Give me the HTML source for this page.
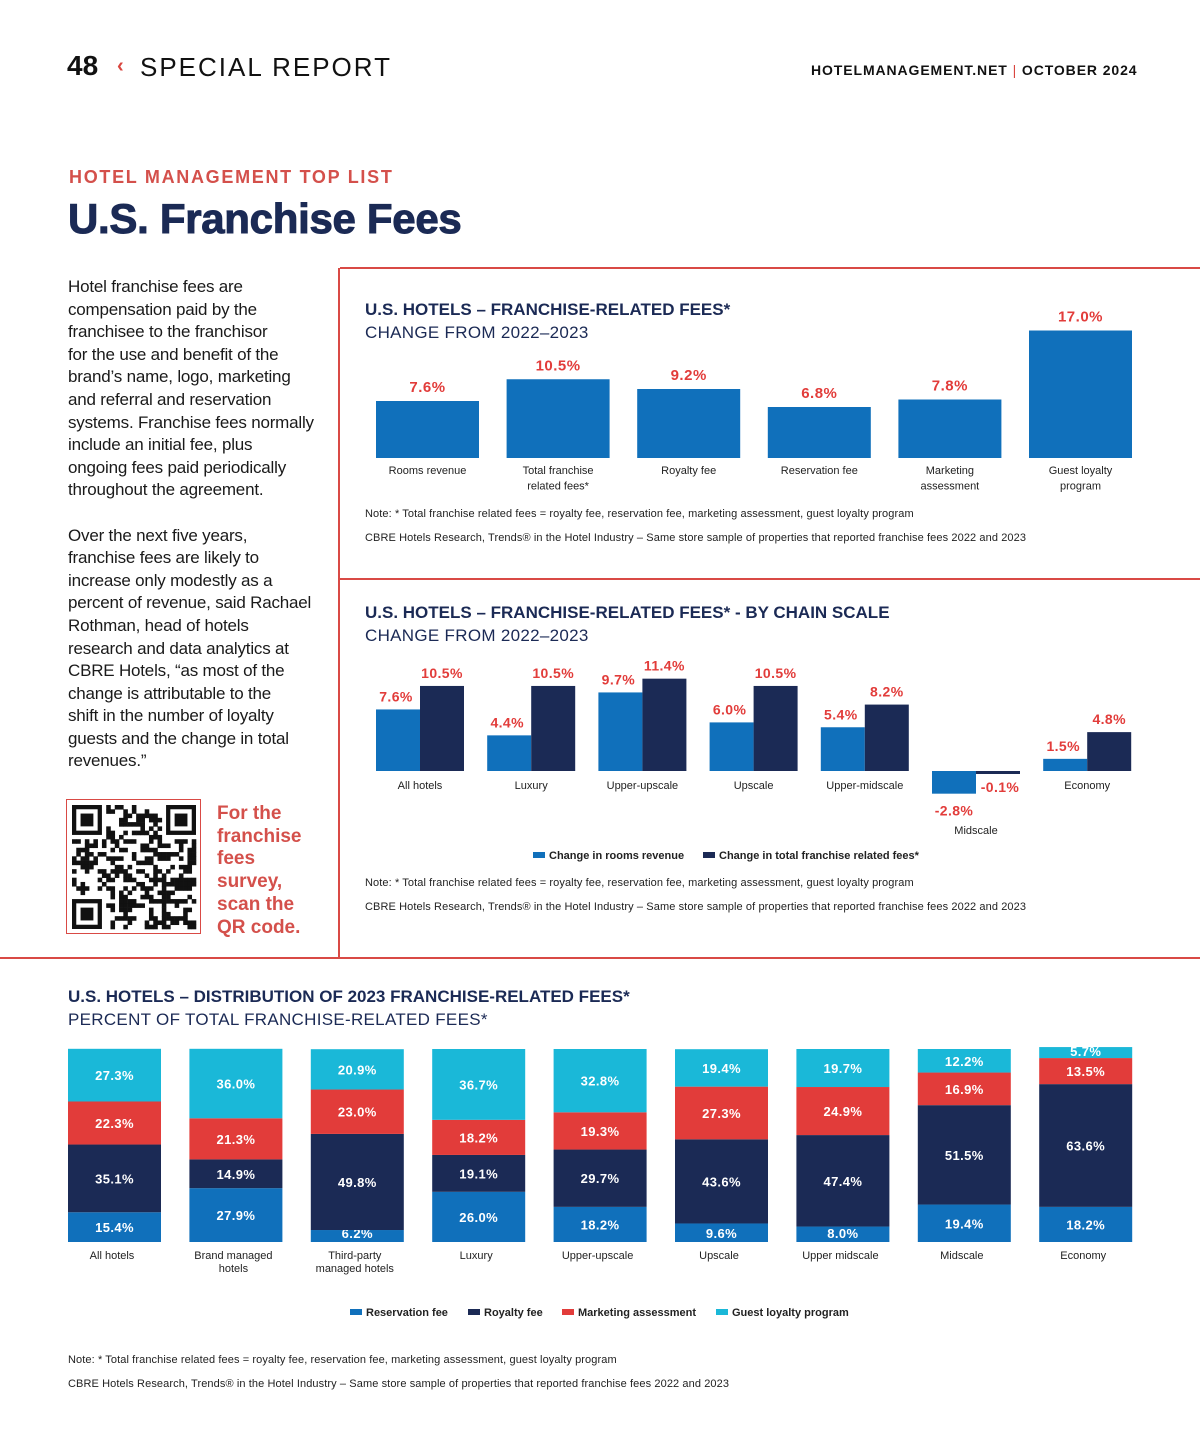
<!DOCTYPE html>
<html><head><meta charset="utf-8">
<style>
body{margin:0;background:#fff;}
#page{position:relative;width:1200px;height:1454px;overflow:hidden;font-family:"Liberation Sans",sans-serif;background:#fff;}
.abs{position:absolute;white-space:nowrap;}
#body-text{position:absolute;left:68px;top:276px;width:270px;font-size:17px;line-height:22.6px;color:#1a1a1a;white-space:nowrap;letter-spacing:-0.2px;}
svg text{font-family:"Liberation Sans",sans-serif;}
</style></head><body>
<div id="page">
<div class="abs" style="left:67px;top:50px;font-size:28px;font-weight:bold;color:#111;">48</div>
<div class="abs" style="left:117px;top:55px;font-size:20px;font-weight:bold;color:#d9463f;">‹</div>
<div class="abs" style="left:140px;top:52px;font-size:26px;letter-spacing:2px;color:#111;">SPECIAL REPORT</div>
<div class="abs" style="left:811px;top:62px;font-size:14px;font-weight:bold;letter-spacing:0.9px;color:#111;">HOTELMANAGEMENT.NET <span style="color:#d9463f;font-weight:normal">|</span> OCTOBER 2024</div>
<div class="abs" style="left:69px;top:167px;font-size:18px;font-weight:bold;letter-spacing:1.7px;color:#d4504b;">HOTEL MANAGEMENT TOP LIST</div>
<div class="abs" style="left:68px;top:195px;font-size:42px;font-weight:bold;letter-spacing:-0.3px;color:#1b2a55;-webkit-text-stroke:1px #1b2a55;">U.S. Franchise Fees</div>
<div id="body-text">Hotel franchise fees are<br>compensation paid by the<br>franchisee to the franchisor<br>for the use and benefit of the<br>brand’s name, logo, marketing<br>and referral and reservation<br>systems. Franchise fees normally<br>include an initial fee, plus<br>ongoing fees paid periodically<br>throughout the agreement.<br><br>Over the next five years,<br>franchise fees are likely to<br>increase only modestly as a<br>percent of revenue, said Rachael<br>Rothman, head of hotels<br>research and data analytics at<br>CBRE Hotels, “as most of the<br>change is attributable to the<br>shift in the number of loyalty<br>guests and the change in total<br>revenues.”</div>
<div class="abs" style="left:217px;top:803px;font-size:19px;line-height:22.7px;font-weight:bold;color:#d4504b;">For the<br>franchise<br>fees<br>survey,<br>scan the<br>QR code.</div>
<svg id="svg" width="1200" height="1454" style="position:absolute;left:0;top:0"></svg>
</div>
<script>
// Chart 1 data
const c1Cats=["Rooms revenue","Total franchise|related fees*","Royalty fee","Reservation fee","Marketing|assessment","Guest loyalty|program"];
const c1Vals=[7.6,10.5,9.2,6.8,7.8,17.0];
// Chart 2 data
const c2Cats=["All hotels","Luxury","Upper-upscale","Upscale","Upper-midscale","Midscale","Economy"];
const c2Rooms=[7.6,4.4,9.7,6.0,5.4,-2.8,1.5];
const c2Fees=[10.5,10.5,11.4,10.5,8.2,-0.1,4.8];
// Chart 3 data
const c3Cats=["All hotels","Brand managed|hotels","Third-party|managed hotels","Luxury","Upper-upscale","Upscale","Upper midscale","Midscale","Economy"];
const c3Reservation=[15.4,27.9,6.2,26.0,18.2,9.6,8.0,19.4,18.2];
const c3Royalty=[35.1,14.9,49.8,19.1,29.7,43.6,47.4,51.5,63.6];
const c3Marketing=[22.3,21.3,23.0,18.2,19.3,27.3,24.9,16.9,13.5];
const c3Loyalty=[27.3,36.0,20.9,36.7,32.8,19.4,19.7,12.2,5.7];

const NS="http://www.w3.org/2000/svg";
const svg=document.getElementById('svg');
const BLUE="#1070bb",NAVY="#1b2a55",RED="#e23c3a",CYAN="#1ab8d8",LRED="#d94a45";
function el(tag,attrs,parent){const e=document.createElementNS(NS,tag);for(const k in attrs)e.setAttribute(k,attrs[k]);(parent||svg).appendChild(e);return e;}
function txt(x,y,s,o){const t=el('text',Object.assign({x:x,y:y},o||{}));t.textContent=s;return t;}
function multi(x,y,s,o,lh){s.split('|').forEach((l,i)=>{const t=txt(x,y+i*lh,l,o);});}

// frame lines
[[340,268,1200,268],[340,579,1200,579],[0,958,1200,958],[339,268,339,958]].forEach(l=>{
 const e=el('line',{x1:l[0],y1:l[1],x2:l[2],y2:l[3],stroke:LRED,'stroke-width':2});
 });

// QR
const qrBox=el('rect',{x:66.5,y:799.5,width:134,height:134,fill:'none',stroke:LRED,'stroke-width':1});

const qr=el('g',{});
let seed=7;function rnd(){seed=(seed*16807)%2147483647;return seed/2147483647;}
const N=29,cs=124/N,ox=72,oy=805;
function finder(cx,cy){el('rect',{x:ox+cx*cs,y:oy+cy*cs,width:7*cs,height:7*cs,fill:'#111'},qr);el('rect',{x:ox+(cx+1)*cs,y:oy+(cy+1)*cs,width:5*cs,height:5*cs,fill:'#fff'},qr);el('rect',{x:ox+(cx+2)*cs,y:oy+(cy+2)*cs,width:3*cs,height:3*cs,fill:'#111'},qr);}
for(let r=0;r<N;r++)for(let c=0;c<N;c++){const inF=(r<8&&c<8)||(r<8&&c>=N-8)||(r>=N-8&&c<8);if(inF)continue;if(rnd()<0.5)el('rect',{x:ox+c*cs,y:oy+r*cs,width:cs+0.3,height:cs+0.3,fill:'#111'},qr);}
finder(0,0);finder(N-7,0);finder(0,N-7);

// ---------- Chart 1 ----------
function titleBlock(x,y,a,b,name){const t=txt(x,y,a,{'font-size':17,'font-weight':'bold',fill:NAVY});
 const s=txt(x,y+23,b,{'font-size':17,fill:NAVY,'letter-spacing':0.3});}
titleBlock(365,315,"U.S. HOTELS – FRANCHISE-RELATED FEES*","CHANGE FROM 2022–2023","chart1");
const c1Base=458,c1Scale=7.5;
const c1y=v=>c1Base-v*c1Scale;
const c1x=i=>376+i*130.6;
c1Vals.forEach((v,i)=>{
 const r=el('rect',{x:c1x(i),y:c1y(v),width:103,height:c1Base-c1y(v),fill:BLUE});
 
 const t=txt(c1x(i)+51.5,c1y(v)-9,v.toFixed(1)+'%',{'font-size':15,'font-weight':'bold',fill:RED,'text-anchor':'middle','letter-spacing':0.5});
 
 multi(c1x(i)+51.5,474,c1Cats[i],{'font-size':11,fill:'#222','text-anchor':'middle'},15.5);
});
function notes(x,y,name){const a=txt(x,y,"Note: * Total franchise related fees = royalty fee, reservation fee, marketing assessment, guest loyalty program",{'font-size':11,fill:'#222','letter-spacing':0.1});
 const b=txt(x,y+24,"CBRE Hotels Research, Trends® in the Hotel Industry –   Same store sample of properties that reported franchise fees 2022 and 2023",{'font-size':11,fill:'#222','letter-spacing':0.1});}
notes(365,517,'chart1');

// ---------- Chart 2 ----------
titleBlock(365,618,"U.S. HOTELS – FRANCHISE-RELATED FEES* - BY CHAIN SCALE","CHANGE FROM 2022–2023","chart2");
const c2Base=771,c2Scale=8.1;
const c2y=v=>c2Base-v*c2Scale;
const c2x=i=>376+i*111.2;
c2Cats.forEach((c,i)=>{
 [[c2Rooms[i],BLUE,0,'rooms'],[c2Fees[i],NAVY,44,'fees']].forEach(([v,col,dx,nm])=>{
  const y0=Math.min(c2y(v),c2Base),h=Math.max(Math.abs(v*c2Scale),3);
  const r=el('rect',{x:c2x(i)+dx,y:v<0?c2Base:y0,width:44,height:h,fill:col});
  
  let tx=c2x(i)+dx+22,ty=v<0?c2Base-v*c2Scale+22:c2y(v)-8;
  if(v<0&&nm==='fees'){tx=c2x(i)+dx+24;ty=c2Base+21;}
  if(v>=0&&nm==='rooms'){tx=c2x(i)+dx+22-2;}
  const t=txt(tx,ty,v.toFixed(1)+'%',{'font-size':14,'font-weight':'bold',fill:RED,'text-anchor':'middle','letter-spacing':0.4});
  
 });
 const neg=c2Rooms[i]<0;
 const t=txt(c2x(i)+44,neg?834:789,c,{'font-size':11,fill:'#222','text-anchor':'middle'});
 
});
function legendItem(x,y,col,label,name){const g=el('g',{});
 el('rect',{x:x,y:y-7,width:12,height:6,fill:col},g);const t=txt(x+16,y,label,{'font-size':11,'font-weight':'bold',fill:'#222'});g.appendChild(t);}
legendItem(533,859,BLUE,"Change in rooms revenue","legend-rooms-revenue");
legendItem(703,859,NAVY,"Change in total franchise related fees*","legend-franchise-fees");
notes(365,886,'chart2');

// ---------- Chart 3 ----------
titleBlock(68,1002,"U.S. HOTELS – DISTRIBUTION OF 2023 FRANCHISE-RELATED FEES*","PERCENT OF TOTAL FRANCHISE-RELATED FEES*","chart3");
const c3Base=1242,c3Scale=1.93;
const c3x=i=>68+i*121.4;
const series=[[c3Reservation,BLUE,'reservation'],[c3Royalty,NAVY,'royalty'],[c3Marketing,RED,'marketing'],[c3Loyalty,CYAN,'loyalty']];
c3Cats.forEach((c,i)=>{
 let acc=0;
 series.forEach(([arr,col,nm])=>{
  const v=arr[i],y1=c3Base-acc*c3Scale,y0=c3Base-(acc+v)*c3Scale;
  const r=el('rect',{x:c3x(i),y:y0,width:93,height:y1-y0,fill:col});
  
  let ty=(y0+y1)/2+5;
  if(v<7)ty=y1-2;
  if(nm==='reservation'&&v<12)ty=y1-4;
  const t=txt(c3x(i)+46.5,ty,v.toFixed(1)+'%',{'font-size':13,'font-weight':'bold',fill:'#fff','text-anchor':'middle','letter-spacing':0.4});
  
  acc+=v;
 });
 multi(c3x(i)+44,1259,c,{'font-size':11,fill:'#222','text-anchor':'middle'},13);
});
legendItem(350,1316,BLUE,"Reservation fee","legend-reservation-fee");
legendItem(468,1316,NAVY,"Royalty fee","legend-royalty-fee");
legendItem(562,1316,RED,"Marketing assessment","legend-marketing-assessment");
legendItem(716,1316,CYAN,"Guest loyalty program","legend-guest-loyalty");
notes(68,1363,'chart3');
</script>
</body></html>
